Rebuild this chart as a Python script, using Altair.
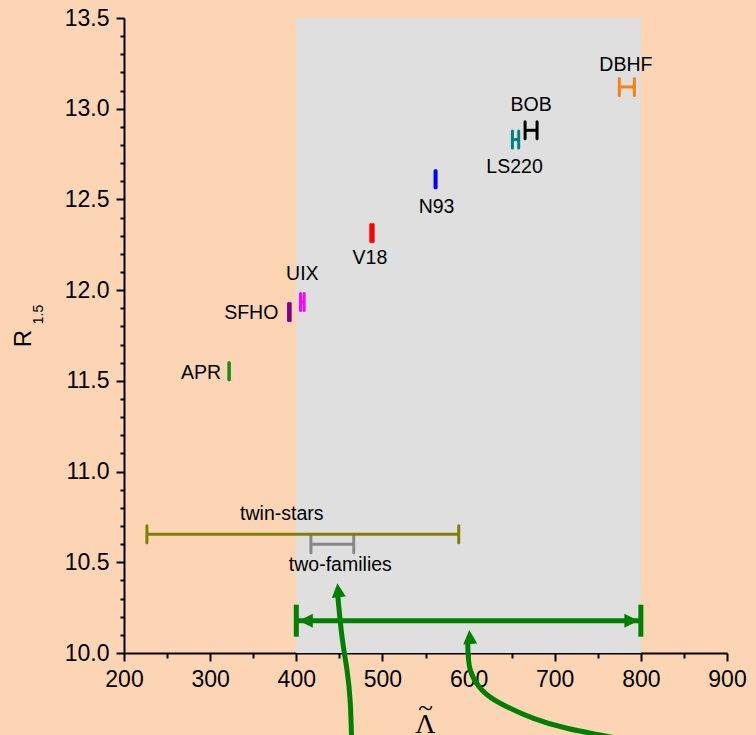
import altair as alt
import pandas as pd

# Equations of state: range of tidal deformability and radius of a 1.5 Msun star
eos_names = ["APR", "SFHO", "UIX", "V18", "N93", "LS220", "BOB", "DBHF"]
eos_lam_lo = [321.8, 391.0, 404.9, 486.5, 561.1, 650.9, 665.6, 775.0]
eos_lam_hi = [322.2, 392.9, 409.1, 489.2, 562.3, 658.2, 679.5, 792.5]
eos_r15 = [11.553, 11.880, 11.935, 12.315, 12.611, 12.830, 12.881, 13.120]
eos_colors = ["#1A8A1A", "#800080", "#FF00FF", "#FF0000", "#0000FF",
              "#008080", "#000000", "#FF7F0E"]
# label placement (pixels) relative to the marker centre
eos_label_dx = [-8, -11, 0, -2, 1, -1, 0, -1]
eos_label_dy = [8, 7, -22, 31, 34, 33, -19, -16]
eos_label_align = ["right", "right", "center", "center", "center",
                   "center", "center", "center"]

# Model predictions shown as ranges
range_names = ["twin-stars", "two-families"]
range_lo = [226.6, 417.0]
range_hi = [588.6, 466.7]
range_r15 = [10.654, 10.599]
range_colors = ["#808000", "#888888"]
range_label_dx = [-21, 8]
range_label_dy = [-14, 27]

# Allowed interval of the binary tidal deformability
band_lo, band_hi = 400, 800
band_r15 = 10.178

# Curved pointers, drawn through these points
curve1_lam = [448.2, 453.1, 458.9, 462.7, 464.4]
curve1_r = [10.314, 10.088, 9.906, 9.724, 9.493]
curve2_lam = [599.0, 602.0, 615.5, 636.7, 675.4, 714.2, 752.8, 810.8]
curve2_r = [10.061, 9.906, 9.796, 9.723, 9.640, 9.585, 9.548, 9.493]
head_lam = [447.7, 600.8]
head_r = [10.384, 10.127]
head_angle = [354, 356]

GREEN = "#008000"
FONT = "Liberation Sans"
SERIF = "Liberation Serif"
W, H = 603, 635
X_SCALE = alt.Scale(domain=[200, 900], nice=False, zero=False)
Y_SCALE = alt.Scale(domain=[10, 13.5], nice=False, zero=False)

eos = pd.DataFrame({
    "name": eos_names, "lo": eos_lam_lo, "hi": eos_lam_hi, "r": eos_r15,
    "color": eos_colors,
})
eos["cx"] = (eos["lo"] + eos["hi"]) / 2

rng = pd.DataFrame({
    "name": range_names, "lo": range_lo, "hi": range_hi, "r": range_r15,
    "color": range_colors,
})
rng["cx"] = (rng["lo"] + rng["hi"]) / 2

band = pd.DataFrame({"lo": [band_lo], "hi": [band_hi], "r": [band_r15],
                     "bottom": [10.0], "top": [13.5]})

curves = pd.concat([
    pd.DataFrame({"curve": "a", "i": range(len(curve1_lam)),
                  "lam": curve1_lam, "r": curve1_r}),
    pd.DataFrame({"curve": "b", "i": range(len(curve2_lam)),
                  "lam": curve2_lam, "r": curve2_r}),
])
heads = pd.DataFrame({"lam": head_lam, "r": head_r, "angle": head_angle})

# Axes: majors labelled, minors as shorter ticks
x_vals = list(range(200, 901, 50))
x_major = "datum.value % 100 == 0"
y_vals = [round(10 + 0.1 * i, 1) for i in range(36)]
y_major = "abs(datum.value * 2 - round(datum.value * 2)) < 0.001"

axis_common = dict(
    grid=False, domainColor="black", domainWidth=2, tickColor="black",
    tickWidth=2, labelFont=FONT, labelFontSize=23, labelColor="black",
    title=None, labelFlush=False, labelPadding=7,
)
X_AXIS = alt.Axis(
    values=x_vals, format="d", labelExpr=f"{x_major} ? datum.label : ''",
    tickSize={"condition": {"test": x_major, "value": 8}, "value": 5},
    **axis_common,
)
Y_AXIS = alt.Axis(
    values=y_vals, format=".1f", labelExpr=f"{y_major} ? datum.label : ''",
    tickSize={"condition": {"test": y_major, "value": 8}, "value": 4},
    **axis_common,
)

def xq(field):
    return alt.X(field, type="quantitative", scale=X_SCALE, axis=X_AXIS)

def yq(field):
    return alt.Y(field, type="quantitative", scale=Y_SCALE, axis=Y_AXIS)

# grey band of allowed values
band_rect = alt.Chart(band).mark_rect(color="#DFDFDF").encode(
    x=xq("lo"), x2="hi", y=yq("bottom"), y2="top",
)

def error_bar(df, width, cap_half):
    base = alt.Chart(df)
    color = alt.Color("color:N", scale=None)
    bar = base.mark_rule(strokeWidth=width, strokeCap="butt").encode(
        x=xq("lo"), x2="hi", y=yq("r"), color=color)
    left = base.mark_rule(strokeWidth=width, strokeCap="round",
                          yOffset=-cap_half, y2Offset=cap_half).encode(
        x=xq("lo"), y=yq("r"), y2="r", color=color)
    right = base.mark_rule(strokeWidth=width, strokeCap="round",
                           yOffset=-cap_half, y2Offset=cap_half).encode(
        x=xq("hi"), y=yq("r"), y2="r", color=color)
    return bar + left + right

eos_marks = error_bar(eos, 3, 8.5)
# two-families first so the twin-stars line sits on top of its caps
rng_marks = error_bar(rng.iloc[[1]], 3, 8.5) + error_bar(rng.iloc[[0]], 3, 8.5)

def label(df, i, dx, dy, align):
    return alt.Chart(df.iloc[[i]]).mark_text(
        font=FONT, fontSize=19.5, color="black", align=align,
        baseline="alphabetic", dx=dx, dy=dy,
    ).encode(x=xq("cx"), y=yq("r"), text="name:N")

label_layers = [
    label(eos, i, eos_label_dx[i], eos_label_dy[i], eos_label_align[i])
    for i in range(len(eos_names))
] + [
    label(rng, i, range_label_dx[i], range_label_dy[i], "center")
    for i in range(len(range_names))
]

# double-headed arrow spanning the band
band_line = alt.Chart(band).mark_rule(color=GREEN, strokeWidth=5).encode(
    x=xq("lo"), x2="hi", y=yq("r"))
band_caps = alt.Chart(band).transform_fold(["lo", "hi"], as_=["end", "lam"]).mark_rule(
    color=GREEN, strokeWidth=5, strokeCap="butt", yOffset=-16, y2Offset=16).encode(
    x=xq("lam:Q"), y=yq("r"), y2="r")
band_head_l = alt.Chart(band).mark_point(
    shape="M0,0L2,-1L2,1Z", filled=True, size=196, opacity=1, color=GREEN,
    strokeWidth=0, xOffset=2.5).encode(x=xq("lo"), y=yq("r"))
band_head_r = alt.Chart(band).mark_point(
    shape="M0,0L-2,-1L-2,1Z", filled=True, size=196, opacity=1, color=GREEN,
    strokeWidth=0, xOffset=-2.5).encode(x=xq("hi"), y=yq("r"))

# curved pointers from below the axis
curve_lines = alt.Chart(curves).mark_line(
    color=GREEN, strokeWidth=5, interpolate="natural", clip=False).encode(
    x=xq("lam"), y=yq("r"), detail="curve:N", order="i:Q")
curve_heads = alt.Chart(heads).mark_point(
    shape="M0,0L1,2L-1,2Z", filled=True, size=196, opacity=1, color=GREEN,
    strokeWidth=0).encode(x=xq("lam"), y=yq("r"),
                          angle=alt.Angle("angle:Q", scale=None))

# axis titles: R_1.5 (letter plus subscript) and Lambda with a tilde
def title_layer(texts, font, px, py, sizes, angle):
    df = pd.DataFrame({"t": texts, "px": px, "py": py, "size": sizes})
    return alt.Chart(df).mark_text(
        color="black", align="center", baseline="alphabetic", font=font,
        angle=angle).encode(
        x=alt.X("px:Q", scale=None, axis=None),
        y=alt.Y("py:Q", scale=None, axis=None),
        text="t:N", size=alt.Size("size:Q", scale=None))

y_title = title_layer(["R", "1.5"], FONT, [-93, -81.3], [320.7, 296.5],
                      [24, 14], 270)
x_title = title_layer(["Λ", "~"], SERIF, [W / 2, W / 2], [H + 80, H + 63.5],
                      [28, 27], 0)

chart = alt.layer(
    band_rect, rng_marks, eos_marks, *label_layers,
    band_line, band_caps, band_head_l, band_head_r, curve_lines, curve_heads,
    y_title, x_title,
).properties(
    width=W, height=H,
    autosize=alt.AutoSizeParams(type="none"),
    padding={"left": 124, "top": 18, "right": 29, "bottom": 82},
    background="#FCD5B4",
).configure_view(stroke=None)

chart.save("out.html", embed_options={"renderer": "svg", "actions": False})
